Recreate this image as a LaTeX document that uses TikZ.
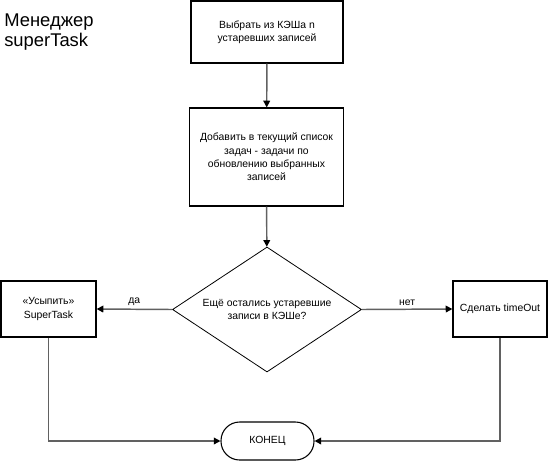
\documentclass[tikz,border=0pt]{standalone}
\usepackage{fontspec}
\setmainfont{Liberation Sans}
\usetikzlibrary{shapes.geometric,arrows.meta}
\begin{document}
\begin{tikzpicture}[x=0.75pt,y=-0.75pt,
  txt/.style={font=\fontsize{7.8}{10}\selectfont, align=center},
  box/.style={txt, draw=black, line width=0.9pt, inner sep=0pt},
  dec/.style={txt, draw=black, line width=0.6pt, diamond, shape aspect=1.5, inner sep=0pt},
  term/.style={txt, draw=black, line width=0.8pt, rounded corners=14pt, inner sep=0pt},
  conn/.style={draw=black!62, line width=1.1pt, -{Triangle[length=5pt,width=5pt,color=black]}},
  lbl/.style={font=\fontsize{7.8}{10}\selectfont, inner sep=2.5pt}
]
\useasboundingbox (0,0) rectangle (549,461);

\node[anchor=north west, inner sep=0pt, align=left,
      font=\fontsize{13.8}{14.5}\selectfont] (title) at (4,14) {Менеджер\\superTask};

\node[box, minimum width=114pt, minimum height=46.5pt] (b1) at (267,32)
  {Выбрать из КЭШа n\\устаревших записей};
\node[box, minimum width=116pt, minimum height=73.5pt] (b2) at (266.5,157)
  {Добавить в текущий список\\задач - задачи по\\обновлению выбранных\\записей};
\node[dec, minimum width=141.75pt, minimum height=93.75pt] (d) at (267,309.5)
  {Ещё остались устаревшие\\записи в КЭШе?};
\node[box, minimum width=71.25pt, minimum height=42pt] (l) at (48.5,309)
  {«Усыпить»\\SuperTask};
\node[box, minimum width=70.5pt, minimum height=42pt] (r) at (500,309)
  {Сделать timeOut};
\node[term, minimum width=69.75pt, minimum height=28.5pt] (e) at (267.5,441)
  {КОНЕЦ};

\draw[conn] (b1) -- (b2);
\draw[conn] (b2) -- (d);
\draw[conn] (d.west) -- node[lbl, above] {да} (l.east);
\draw[conn] (d.east) -- node[lbl, above] {нет} (r.west);
\draw[conn] (l.south) |- (e.west);
\draw[conn] (r.south) |- (e.east);
\end{tikzpicture}
\end{document}
